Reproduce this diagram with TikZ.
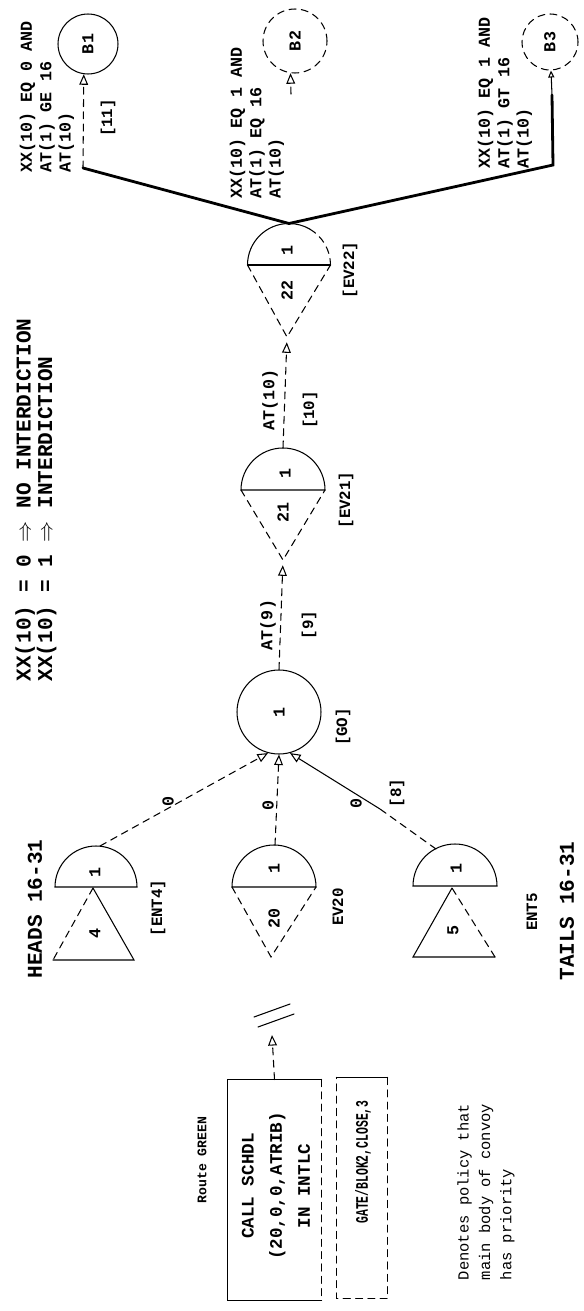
\documentclass[tikz,border=0pt]{standalone}
\usepackage{fontspec}
\setmainfont{Liberation Mono}
\newfontfamily\narrowfont[FakeStretch=0.65]{Liberation Mono}
\usetikzlibrary{arrows.meta}

\begin{document}
\begin{tikzpicture}[x=0.02cm,y=-0.02cm,line cap=round,semithick,
  lbl/.style={rotate=90,inner sep=0pt,font=\bfseries\fontsize{9.5}{11}\selectfont},
  small/.style={lbl,font=\bfseries\fontsize{9}{11}\selectfont},
  big/.style={lbl,font=\bfseries\fontsize{12}{10.5}\selectfont},
  circ/.style={circle,draw,inner sep=0pt},
  dsh/.style={dash pattern=on 4pt off 3pt},
  openarr/.style={-{Triangle[open,length=6pt,width=5pt]}}]
\useasboundingbox (0,0) rectangle (584,1311);
% anchor points of the event symbols
\coordinate (ev22top) at (289,223.5);
\coordinate (ev22tip) at (287,337);
\coordinate (ev21top) at (283,448);
\coordinate (ev21tip) at (283,560);
\coordinate (ent4top) at (100,846);
\coordinate (ev20top) at (275,845);
\coordinate (ent5top) at (436,849);
\coordinate (ent5mid) at (380,809);
\coordinate (bend1) at (83,168);
\coordinate (bend3) at (553,165);
\coordinate (b3foot) at (552,95);
\coordinate (b2tail) at (291,94);
\coordinate (brk) at (272,1035);

% legend
\node[big,align=left] (legend) at (36,500) {XX(10) = 0 $\Rightarrow$ NO INTERDICTION\\XX(10) = 1 $\Rightarrow$ INTERDICTION};

% branches to B1, B2, B3
\node[circ,minimum size=1.2cm] (b1) at (88,44) {};
\node[lbl] (b1txt) at (b1) {B1};
\node[circ,dsh,minimum size=1.28cm] (b2) at (295,41) {};
\node[lbl] (b2txt) at (b2) {B2};
\node[circ,dsh,minimum size=1.12cm] (b3) at (550,42) {};
\node[lbl] (b3txt) at (b3) {B3};
\node[lbl,align=left] (cond1) at (47,97) {XX(10) EQ 0 AND\\AT(1) GE 16\\AT(10)};
\node[lbl,align=left] (cond2) at (257,123) {XX(10) EQ 1 AND\\AT(1) EQ 16\\AT(10)};
\node[lbl,align=left] (cond3) at (505,93) {XX(10) EQ 1 AND\\AT(1) GT 16\\AT(10)};
\node[small] (n11) at (108,118) {[11]};
\draw[line width=1.6pt] (bend1) -- (ev22top) -- (bend3) -- (b3foot);
\draw[dsh,openarr] (bend1) -- (b1.262);
\draw[dsh,openarr] (b2tail) -- (b2.262);
\draw[-{Triangle[open,length=4pt,width=3.5pt]}] (b3foot) -- (b3.272);

% EV22
\draw (247.5,265) arc[start angle=180,end angle=300,radius=41.5];
\draw[dsh] (309.75,229.1) arc[start angle=300,end angle=360,radius=41.5];
\draw (247.5,265) -- (330.5,265);
\draw[dsh] (247.5,265) -- (ev22tip) -- (330.5,265);
\node[lbl] (ev22a) at (287,250) {1};
\node[lbl] (ev22b) at (287,290) {22};
\node[small] (ev22n) at (350,270) {[EV22]};
\node[lbl] (at10) at (270,400) {AT(10)};
\node[small] (n10) at (310,410) {[10]};
\draw[dsh,openarr,shorten >=3pt] (ev21top) -- (ev22tip);

% EV21
\draw (241,490) arc[start angle=180,end angle=360,radius=42] -- cycle;
\draw[dsh] (241,490) -- (ev21tip) -- (325,490);
\node[lbl] (ev21a) at (285,473) {1};
\node[lbl] (ev21b) at (283,512) {21};
\node[small] (ev21n) at (346,500) {[EV21]};
\node[lbl] (at9) at (268,625) {AT(9)};
\node[small] (n9) at (309,625) {[9]};

% GO
\node[circ,minimum size=1.68cm] (go) at (279,712) {};
\node[lbl] (gotxt) at (go) {1};
\node[small] (gon) at (343,727) {[GO]};
\draw[dsh,openarr,shorten >=3pt] (go.north) -- (ev21tip);

% ENT4, EV20, ENT5
\draw (55,887) arc[start angle=180,end angle=360,radius=41] -- cycle;
\draw[dsh] (93,888) -- (53,960);
\draw (53,960) -- (134,960) -- (93,888);
\node[lbl] (ent4a) at (95,872) {1};
\node[lbl] (ent4b) at (95,933) {4};
\node[small] (ent4n) at (158,908) {[ENT4]};
\draw (232,887) arc[start angle=180,end angle=360,radius=42] -- cycle;
\draw[dsh] (232,887) -- (271,957) -- (316,887);
\node[lbl] (ev20a) at (274,868) {1};
\node[lbl] (ev20b) at (274,918) {20};
\node[small] (ev20n) at (338,907) {EV20};
\draw (413,886) arc[start angle=180,end angle=360,radius=42] -- cycle;
\draw (452,888) -- (413,957) -- (495,957);
\draw[dsh] (495,957) -- (452,888);
\node[lbl] (ent5a) at (456,868) {1};
\node[lbl] (ent5b) at (453,930) {5};
\node[small] (ent5n) at (532,912) {ENT5};
\node[big] (heads) at (35,909) {HEADS 16-31};
\node[big] (tails) at (567,911) {TAILS 16-31};
\draw[dsh,openarr] (ent4top) -- (go.255);
\draw[dsh,openarr] (ev20top) -- (go.270);
\draw[dsh] (ent5top) -- (ent5mid);
\draw[openarr] (ent5mid) -- (go.285);
\node[lbl] (zero1) at (168,801) {0};
\node[lbl] (zero2) at (268,805) {0};
\node[lbl] (zero3) at (356,803) {0};
\node[small] (n8) at (397,793) {[8]};

% route GREEN
\node[lbl,font=\bfseries\fontsize{7.5}{9}\selectfont] (route) at (202,1160) {Route GREEN};
\node[minimum width=1.86cm,minimum height=4.4cm,inner sep=0pt] (callbox) at (274.5,1190) {};
\draw (callbox.south east) -- (callbox.south west) -- (callbox.north west) -- (callbox.north east);
\draw[dsh] (callbox.north east) -- (callbox.south east);
\node[lbl,align=center,font=\bfseries\fontsize{10}{16}\selectfont] (calltxt) at (276,1186) {CALL SCHDL\\(20,0,0,ATRIB)\\IN INTLC};
\draw[dsh,openarr] (callbox.north) -- (brk);
\draw (254,1017) -- (290,1004);
\draw (258,1027) -- (294,1014);
\node[minimum width=1cm,minimum height=4.4cm,inner sep=0pt] (gatebox) at (362,1188) {};
\draw (gatebox.north west) -- (gatebox.north east);
\draw[dsh] (gatebox.north east) -- (gatebox.south east) -- (gatebox.south west) -- (gatebox.north west);
\node[lbl,font=\narrowfont\bfseries\fontsize{10}{12}\selectfont] (gatetxt) at (363,1162) {GATE/BLOK2,CLOSE,3};
\node[lbl,align=left,font=\fontsize{8.8}{12.2}\selectfont] (note) at (486,1192) {Denotes policy that\\main body of convoy\\has priority};
\end{tikzpicture}
\end{document}
